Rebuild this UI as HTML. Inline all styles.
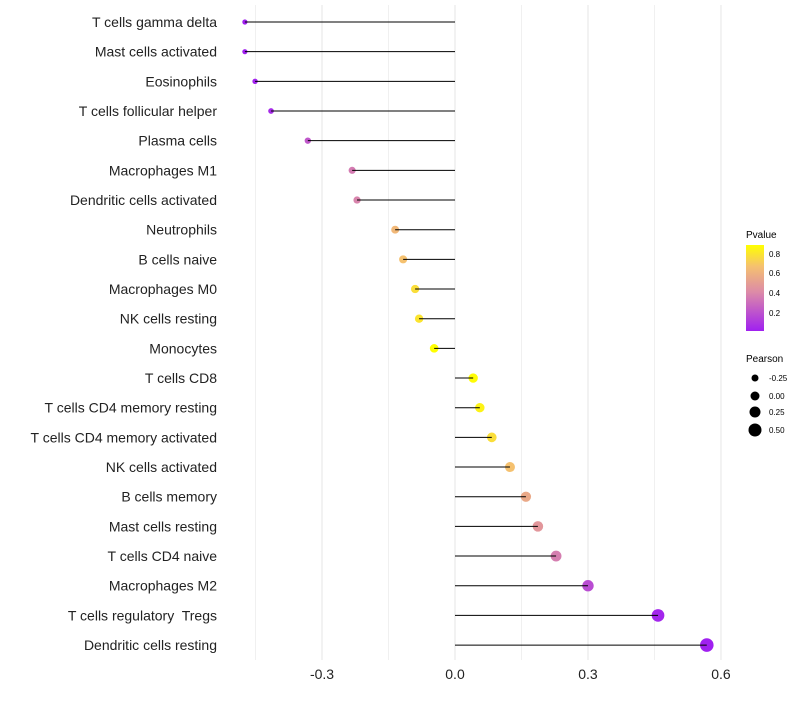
<!DOCTYPE html>
<html><head><meta charset="utf-8"><style>
body{margin:0;background:#fff;font-family:"Liberation Sans",sans-serif;}
text{white-space:pre;}
</style></head><body>
<svg id="c" width="800" height="700" xmlns="http://www.w3.org/2000/svg">
<defs><linearGradient id="g" x1="0" y1="1" x2="0" y2="0">
<stop offset="0" stop-color="#a020f0"/><stop offset="0.45" stop-color="#dc8aa8"/><stop offset="0.75" stop-color="#f5c070"/><stop offset="1" stop-color="#ffff00"/></linearGradient></defs>
<g id="grid"></g><g id="dots"></g><g id="marks"></g><g id="labels"></g>
<g>
<text x="746" y="238" font-size="10" fill="#000">Pvalue</text>
<rect x="746" y="245" width="18" height="86" fill="url(#g)"/>
<text x="769" y="257" font-size="8">0.8</text><text x="769" y="276" font-size="8">0.6</text>
<text x="769" y="296" font-size="8">0.4</text><text x="769" y="316" font-size="8">0.2</text>
</g>
<g>
<text x="746" y="362" font-size="10">Pearson</text>
<circle cx="755" cy="378" r="3.5"/><text x="769" y="381" font-size="8">-0.25</text>
<circle cx="755" cy="396" r="4.5"/><text x="769" y="399" font-size="8">0.00</text>
<circle cx="755" cy="412" r="5.5"/><text x="769" y="415" font-size="8">0.25</text>
<circle cx="755" cy="430" r="6.5"/><text x="769" y="433" font-size="8">0.50</text>
</g>
</svg>
<script>
const cells=["T cells gamma delta","Mast cells activated","Eosinophils","T cells follicular helper","Plasma cells","Macrophages M1","Dendritic cells activated","Neutrophils","B cells naive","Macrophages M0","NK cells resting","Monocytes","T cells CD8","T cells CD4 memory resting","T cells CD4 memory activated","NK cells activated","B cells memory","Mast cells resting","T cells CD4 naive","Macrophages M2","T cells regulatory  Tregs","Dendritic cells resting"];
const pearson=[-0.474,-0.474,-0.451,-0.415,-0.332,-0.232,-0.221,-0.135,-0.117,-0.090,-0.081,-0.047,0.041,0.056,0.083,0.124,0.160,0.187,0.228,0.300,0.458,0.568];
const pvalue=[0.01,0.01,0.03,0.06,0.22,0.35,0.38,0.62,0.66,0.76,0.78,0.88,0.86,0.83,0.76,0.66,0.55,0.46,0.36,0.18,0.04,0.01];
const xTicks=[-0.3,0,0.3,0.6];
const xTickLabels=["-0.3","0.0","0.3","0.6"];
const NS="http://www.w3.org/2000/svg";
const X=v=>455+v*443.3, Y=i=>22+i*29.67;
function mk(t,a,p){const e=document.createElementNS(NS,t);for(const k in a)e.setAttribute(k,a[k]);document.getElementById(p).appendChild(e);return e;}
function col(p){const t=Math.max(0,Math.min(1,(p-0.02)/0.85));
const st=[[0,[160,32,240]],[0.45,[220,138,168]],[0.75,[245,192,112]],[1,[255,255,0]]];
for(let i=1;i<st.length;i++){if(t<=st[i][0]){const f=(t-st[i-1][0])/(st[i][0]-st[i-1][0]);const c=st[i-1][1].map((v,j)=>Math.round(v+(st[i][1][j]-v)*f));return`rgb(${c})`;}}return"rgb(255,255,0)";}
[-0.45,-0.15,0.15,0.45].forEach(v=>{const l=mk("line",{x1:X(v),x2:X(v),y1:5,y2:660,stroke:"#f0f0f0","stroke-width":1},"grid");

});
xTicks.forEach((v,i)=>{const l=mk("line",{x1:X(v),x2:X(v),y1:5,y2:660,stroke:"#e6e6e6","stroke-width":1},"grid");


const t=mk("text",{x:X(v),y:679,"text-anchor":"middle","font-size":"14",fill:"#222"},"labels");t.textContent=xTickLabels[i];

});
cells.forEach((c,i)=>{const y=Y(i);
const d=mk("circle",{cx:X(pearson[i]),cy:y,r:4.5+4*pearson[i],fill:col(pvalue[i])},"dots");


const l=mk("line",{x1:X(0),x2:X(pearson[i]),y1:y,y2:y,stroke:"#000","stroke-width":1},"marks");


const t=mk("text",{x:217,y:y+5,"text-anchor":"end","font-size":"14",fill:"#222"},"labels");t.textContent=c;

});
</script>
</body></html>
